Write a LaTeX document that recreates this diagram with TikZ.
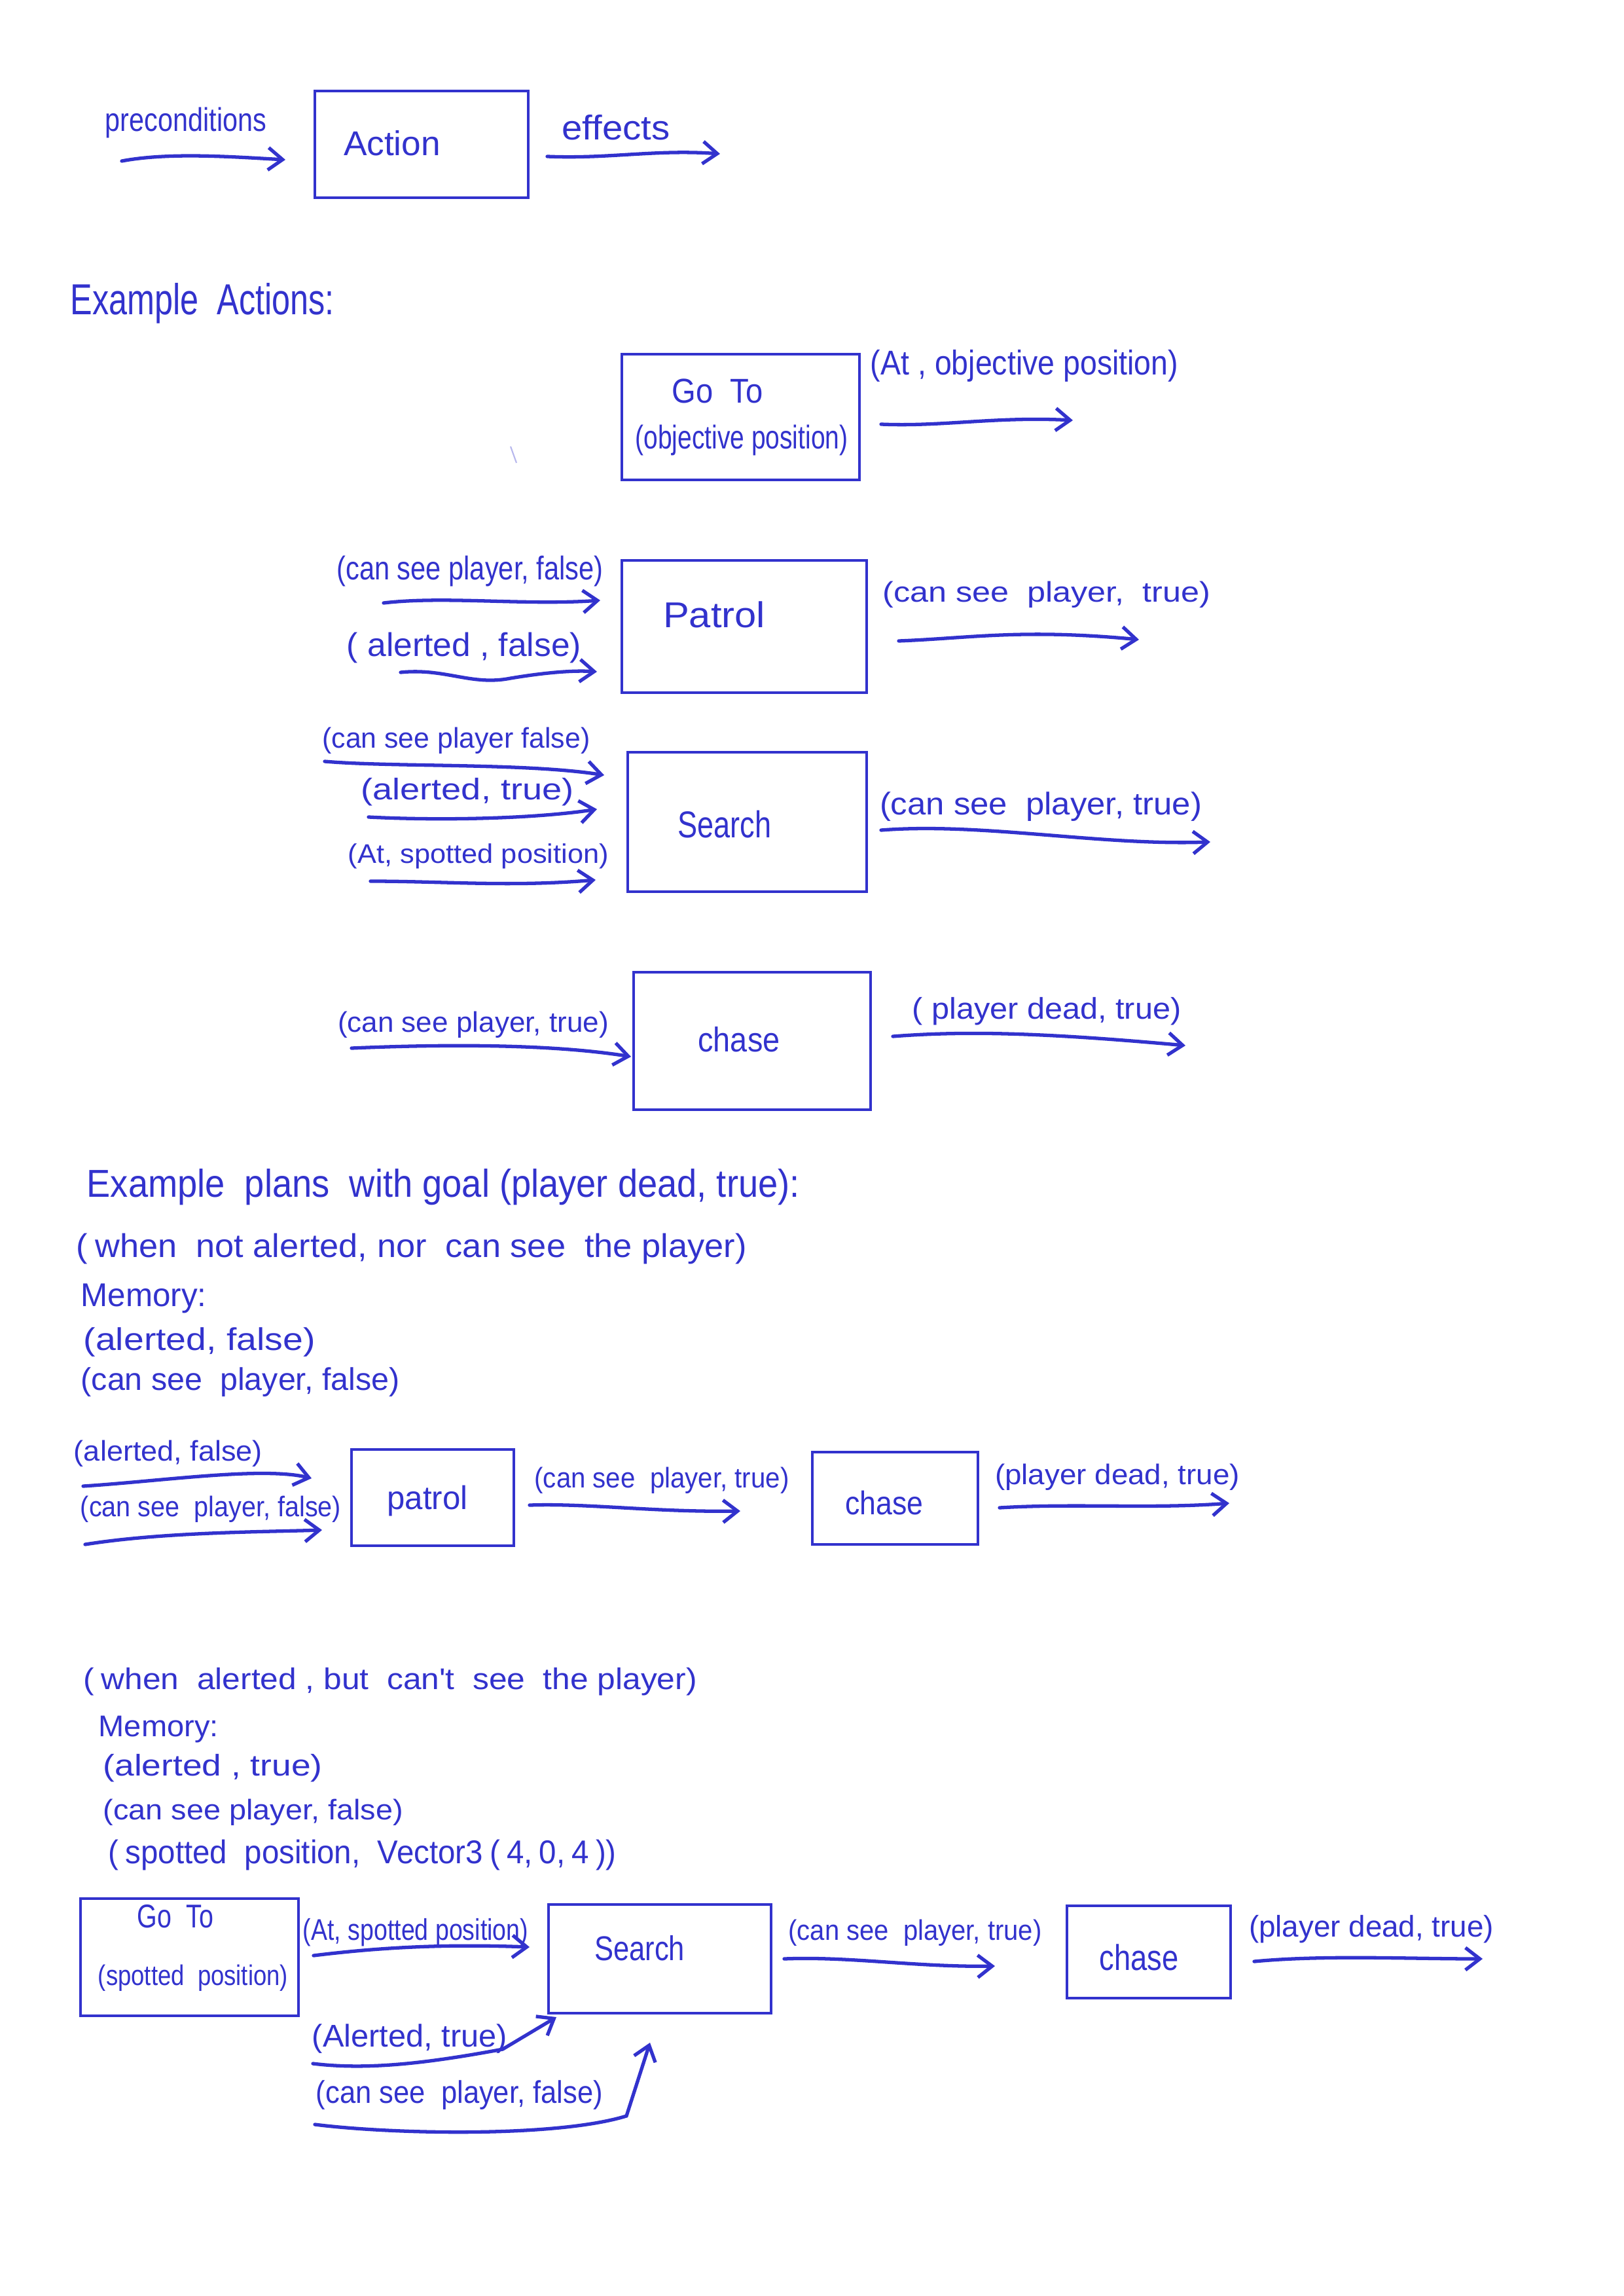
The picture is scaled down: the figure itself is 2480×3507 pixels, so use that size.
\documentclass[tikz,border=0pt]{standalone}
\usepackage{fontspec}
\usepackage{graphicx}
\usetikzlibrary{arrows.meta,fit}
\newfontfamily\hand[FakeStretch=0.78]{Liberation Sans}
\definecolor{ink}{RGB}{50,50,205}
\newlength\upx \setlength\upx{0.01cm}
\newsavebox\hwbox
% #1 vertical factor, #2 width in px, #3 text
\newcommand\hw[3][1]{\sbox\hwbox{\hand\fontsize{13}{15}\selectfont #3}%
  \resizebox{#2\upx}{#1\ht\hwbox}{\usebox\hwbox}}
\tikzset{
  txt/.style={inner sep=0pt, text=ink, anchor=center},
  txtl/.style={inner sep=0pt, text=ink, anchor=west},
  actbox/.style={draw=ink, line width=1.1pt, inner sep=0pt, rectangle},
  flow/.style={draw=ink, line width=1.5pt, line cap=round,
    -{Straight Barb[length=2.2mm,width=3.4mm,line width=1.5pt]}},
}
\begin{document}
\begin{tikzpicture}[x=0.01cm,y=-0.01cm]
\useasboundingbox[fill=white] (0,0) rectangle (2480,3507);

% ---------- legend ----------
\node[txt] (tpre) at (284,188) {\hw[1.1]{246}{preconditions}};
\node[actbox, fit={(481,139) (807,302)}] (action) {};
\node[txt] (tact) at (599,219) {\hw[1.15]{148}{Action}};
\node[txt] (teff) at (941,195) {\hw[1.15]{165}{effects}};
\coordinate (a1s) at (186,246); \coordinate (a1e) at (436,244);
\draw[flow] (a1s) .. controls (260,232) and (360,240) .. (a1e);
\coordinate (a2s) at (836,239); \coordinate (a2e) at (1100,235);
\draw[flow] (a2s) .. controls (930,243) and (1000,228) .. (a2e);

\node[txtl] (texa) at (107,463) {\hw[1.45]{403}{Example\ \ Actions:}};

% ---------- Go To ----------
\node[actbox, fit={(950,541) (1313,733)}] (goto) {};
\node[txt] (tgoto) at (1096,597) {\hw[1.15]{139}{Go\ \ To}};
\node[txt] (tobj) at (1133,673) {\hw[1.1]{325}{(objective position)}};
\node[txt] (tat) at (1565,559) {\hw[1.15]{470}{(At , objective position)}};
\coordinate (a3s) at (1346,648); \coordinate (a3e) at (1639,642);
\draw[flow] (a3s) .. controls (1440,652) and (1520,636) .. (a3e);
\draw[ink!35, line width=0.6pt] (780,682) -- (789,707);

% ---------- Patrol ----------
\node[actbox, fit={(950,856) (1324,1058)}] (patrol) {};
\node[txt] (tpat) at (1091,939) {\hw[1.2]{156}{Patrol}};
\node[txt] (tp1) at (718,872) {\hw[1.1]{407}{(can see player, false)}};
\node[txt] (tp2) at (709,989) {\hw[1.1]{358}{( alerted , false)}};
\node[txt] (tp3) at (1599,908) {\hw[0.95]{501}{(can see\ \ player,\ \ true)}};
\coordinate (a4s) at (586,921); \coordinate (a4e) at (917,917);
\draw[flow] (a4s) .. controls (680,910) and (800,925) .. (a4e);
\coordinate (a5s) at (612,1027); \coordinate (a5e) at (912,1026);
\draw[flow] (a5s) .. controls (680,1020) and (720,1048) .. (780,1036) .. controls (840,1026) and (880,1024) .. (a5e);
\coordinate (a6s) at (1373,979); \coordinate (a6e) at (1740,977);
\draw[flow] (a6s) .. controls (1480,975) and (1560,960) .. (a6e);

% ---------- Search ----------
\node[actbox, fit={(959,1149) (1324,1362)}] (search) {};
\node[txt] (tsea) at (1107,1259) {\hw[1.25]{143}{Search}};
\node[txt] (ts1) at (697,1131) {\hw[0.95]{409}{(can see player false)}};
\node[txt] (ts2) at (714,1210) {\hw[1.0]{325}{(alerted,\ true)}};
\node[txt] (ts3) at (731,1308) {\hw[0.9]{398}{(At, spotted position)}};
\node[txt] (ts4) at (1590,1232) {\hw[1.05]{492}{(can see\ \ player, true)}};
\coordinate (a7s) at (496,1163); \coordinate (a7e) at (923,1184);
\draw[flow] (a7s) .. controls (600,1172) and (800,1165) .. (a7e);
\coordinate (a8s) at (563,1248); \coordinate (a8e) at (912,1236);
\draw[flow] (a8s) .. controls (680,1254) and (820,1250) .. (a8e);
\coordinate (a9s) at (566,1346); \coordinate (a9e) at (910,1344);
\draw[flow] (a9s) .. controls (680,1346) and (780,1355) .. (a9e);
\coordinate (a10s) at (1346,1268); \coordinate (a10e) at (1849,1286);
\draw[flow] (a10s) .. controls (1500,1256) and (1680,1292) .. (a10e);

% ---------- Chase ----------
\node[actbox, fit={(968,1485) (1330,1695)}] (chase) {};
\node[txt] (tcha) at (1129,1588) {\hw[1.15]{125}{chase}};
\node[txt] (tc1) at (723,1565) {\hw[0.95]{414}{(can see player, true)}};
\node[txt] (tc2) at (1599,1545) {\hw[1.0]{411}{( player dead,\ true)}};
\coordinate (a11s) at (537,1601); \coordinate (a11e) at (964,1614);
\draw[flow] (a11s) .. controls (700,1594) and (850,1596) .. (a11e);
\coordinate (a12s) at (1364,1583); \coordinate (a12e) at (1811,1597);
\draw[flow] (a12s) .. controls (1480,1574) and (1600,1578) .. (a12e);

% ---------- plan texts ----------
\node[txtl] (tpl) at (132,1813) {\hw[1.3]{1089}{Example\ \ plans\ \ with\ goal\ (player dead, true):}};
\node[txtl] (tw1) at (116,1907) {\hw[1.1]{1024}{(\,when\ \ not alerted, nor\ \ can see\ \ the player)}};
\node[txtl] (tm1) at (123,1983) {\hw[1.1]{192}{Memory:}};
\node[txtl] (tm1a) at (127,2050) {\hw[1.05]{354}{(alerted, false)}};
\node[txtl] (tm1b) at (123,2111) {\hw[1.05]{487}{(can see\ \ player, false)}};

% ---------- plan 1 ----------
\node[actbox, fit={(537,2214) (785,2361)}] (patrolb) {};
\node[txt] (tpatb) at (653,2292) {\hw[1.1]{123}{patrol}};
\node[actbox, fit={(1241,2218) (1494,2359)}] (chaseb) {};
\node[txt] (tchab) at (1351,2296) {\hw[1.1]{119}{chase}};
\node[txt] (tq1) at (257,2220) {\hw[0.95]{288}{(alerted, false)}};
\node[txt] (tq2) at (322,2305) {\hw[0.95]{398}{(can see\ \ player, false)}};
\node[txt] (tq3) at (1011,2261) {\hw[0.95]{389}{(can see\ \ player, true)}};
\node[txt] (tq4) at (1707,2256) {\hw[0.95]{374}{(player dead, true)}};
\coordinate (a13s) at (127,2270); \coordinate (a13e) at (476,2258);
\draw[flow] (a13s) .. controls (250,2262) and (400,2240) .. (a13e);
\coordinate (a14s) at (130,2359); \coordinate (a14e) at (492,2337);
\draw[flow] (a14s) .. controls (250,2340) and (400,2340) .. (a14e);
\coordinate (a15s) at (809,2299); \coordinate (a15e) at (1131,2308);
\draw[flow] (a15s) .. controls (900,2296) and (1000,2310) .. (a15e);
\coordinate (a16s) at (1527,2303); \coordinate (a16e) at (1878,2296);
\draw[flow] (a16s) .. controls (1640,2296) and (1760,2305) .. (a16e);

% ---------- plan 2 texts ----------
\node[txtl] (tw2) at (127,2569) {\hw[1.0]{937}{(\,when\ \ alerted ,\ but\ \ can't\ \ see\ \ the\ player)}};
\node[txtl] (tm2) at (150,2641) {\hw[1.0]{183}{Memory:}};
\node[txtl] (tm2a) at (157,2701) {\hw[1.0]{335}{(alerted ,\ true)}};
\node[txtl] (tm2b) at (157,2768) {\hw[0.95]{458}{(can\ see\ player, false)}};
\node[txtl] (tm2c) at (165,2833) {\hw[1.1]{776}{(\,spotted\ \ position,\ \ Vector3\,(\,4,\,0,\,4\,))}};

% ---------- plan 2 ----------
\node[actbox, fit={(123,2900) (456,3079)}] (gotoc) {};
\node[txt] (tgotoc) at (268,2927) {\hw[1.1]{116}{Go\ \ To}};
\node[txt] (tspc) at (295,3021) {\hw[0.95]{290}{(spotted\ \ position)}};
\node[actbox, fit={(838,2909) (1178,3075)}] (searchc) {};
\node[txt] (tseac) at (977,2976) {\hw[1.15]{138}{Search}};
\node[actbox, fit={(1630,2911) (1880,3052)}] (chasec) {};
\node[txt] (tchac) at (1740,2990) {\hw[1.2]{121}{chase}};
\node[txt] (tr1) at (635,2952) {\hw[1.0]{344}{(At, spotted position)}};
\node[txt] (tr2) at (1398,2952) {\hw[0.95]{387}{(can see\ \ player, true)}};
\node[txt] (tr3) at (2095,2947) {\hw[1.0]{374}{(player dead, true)}};
\node[txt] (tr4) at (626,3114) {\hw[1.05]{298}{(Alerted, true)}};
\node[txt] (tr5) at (702,3200) {\hw[1.05]{438}{(can\ see\ \ player, false)}};
\coordinate (a17s) at (479,2987); \coordinate (a17e) at (809,2974);
\draw[flow] (a17s) .. controls (600,2972) and (700,2970) .. (a17e);
\coordinate (a18s) at (1198,2992); \coordinate (a18e) at (1520,3003);
\draw[flow] (a18s) .. controls (1300,2988) and (1400,3005) .. (a18e);
\coordinate (a19s) at (1916,2996); \coordinate (a19e) at (2265,2992);
\draw[flow] (a19s) .. controls (2020,2986) and (2150,2992) .. (a19e);
\coordinate (a20s) at (478,3152); \coordinate (a20m) at (768,3130); \coordinate (a20e) at (850,3081);
\draw[flow] (a20s) .. controls (560,3162) and (650,3152) .. (a20m) -- (a20e);
\coordinate (a21s) at (481,3245); \coordinate (a21m) at (957,3232); \coordinate (a21e) at (993,3120);
\draw[flow] (a21s) .. controls (600,3260) and (850,3265) .. (a21m) -- (a21e);
\end{tikzpicture}
\end{document}
